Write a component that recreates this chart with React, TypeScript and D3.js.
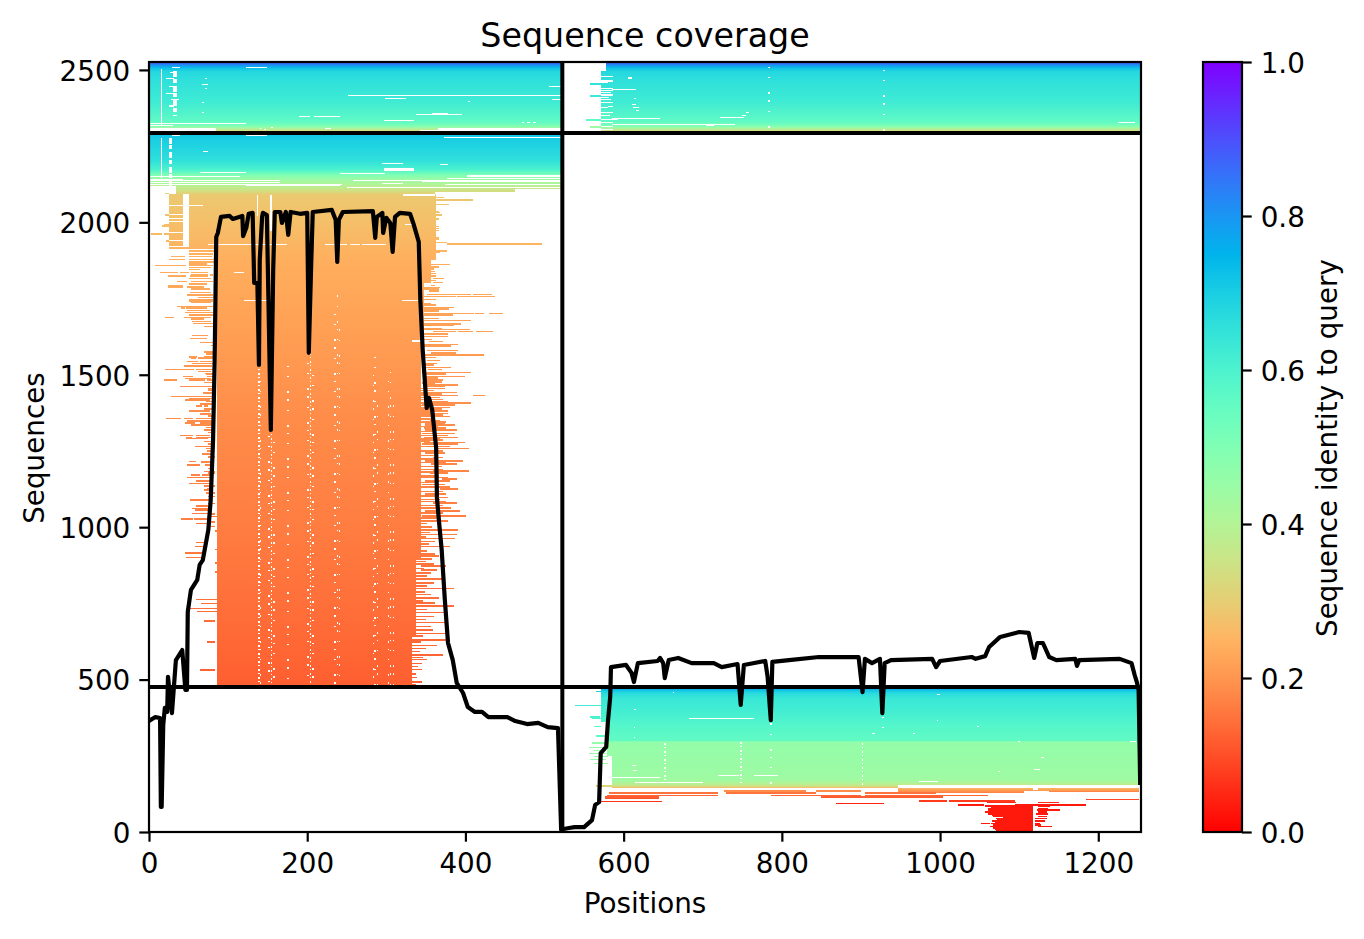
import React, { useEffect, useRef } from 'react';
import * as d3 from 'd3';

// tick labels
const posTicks = [0, 200, 400, 600, 800, 1000, 1200];
const seqTicks = [0, 500, 1000, 1500, 2000, 2500];
const idTicks = [0, 0.2, 0.4, 0.6, 0.8, 1];

// chain boundaries
const seqBreaks = [476, 2293];
const posBreak = 522.5;

// black coverage curve
const coveragePos = [0, 8, 14, 15, 16, 18, 20, 23, 24, 29, 34, 42, 46, 48, 49, 53, 61, 64, 68, 75, 78, 81, 83, 85, 87, 91, 102, 106, 118, 119, 123, 126, 131, 133, 137, 139, 140, 143, 144, 149, 154, 157, 159, 166, 168, 173, 176, 179, 191, 200, 202, 205, 207, 231, 236, 238, 240, 245, 283, 286, 288, 295, 296, 300, 305, 308, 311, 317, 330, 334, 341, 343, 346, 351, 354, 358, 363, 364, 367, 370, 374, 378, 384, 389, 397, 403, 412, 421, 429, 453, 463, 478, 492, 504, 517, 521, 524, 531, 538, 550, 560, 564, 569, 571, 578, 580, 583, 584, 603, 610, 613, 618, 643, 646, 650, 652, 657, 669, 686, 714, 724, 744, 748, 752, 779, 782, 786, 788, 809, 847, 897, 902, 905, 914, 924, 927, 930, 938, 990, 995, 1000, 1040, 1045, 1057, 1062, 1076, 1100, 1112, 1119, 1123, 1130, 1138, 1147, 1171, 1173, 1176, 1227, 1242, 1246, 1249, 1251, 1253];
const coverageCount = [364, 377, 374, 82, 82, 351, 407, 394, 509, 390, 564, 597, 466, 466, 722, 794, 827, 876, 892, 991, 1089, 1286, 1549, 1952, 1965, 2018, 2021, 2011, 2021, 1955, 1982, 2028, 2031, 1801, 1801, 1532, 1877, 2018, 2031, 2024, 1319, 1844, 2034, 2034, 1998, 2034, 1959, 2034, 2028, 2031, 1572, 1860, 2034, 2041, 2008, 1870, 2008, 2034, 2037, 1949, 2018, 2031, 1965, 2015, 1998, 1903, 2018, 2031, 2028, 1998, 1936, 1745, 1581, 1391, 1424, 1385, 1260, 1096, 1007, 925, 761, 620, 564, 489, 456, 410, 394, 394, 377, 377, 364, 354, 358, 344, 341, 7, 10, 13, 16, 16, 39, 89, 98, 259, 279, 358, 443, 541, 548, 522, 492, 554, 561, 571, 554, 505, 564, 571, 554, 554, 541, 551, 417, 548, 561, 509, 367, 558, 564, 574, 574, 459, 568, 554, 568, 390, 554, 564, 568, 541, 561, 574, 568, 577, 607, 640, 656, 653, 571, 620, 620, 574, 564, 568, 545, 564, 568, 554, 515, 489, 466, 154];

// identity at sequence rows, [seq, identity]
const identityA = [[0, 0.03], [88, 0.03], [95, 0.06], [110, 0.11], [125, 0.15], [135, 0.2], [145, 0.26], [149, 0.33], [155, 0.38], [165, 0.42], [175, 0.44], [290, 0.46], [296, 0.47], [300, 0.56], [350, 0.585], [400, 0.62], [440, 0.64], [455, 0.67], [465, 0.72], [470, 0.78], [476, 0.85]];
const identityB = [[476, 0.12], [650, 0.137], [800, 0.148], [1000, 0.163], [1350, 0.185], [1745, 0.225], [1877, 0.24], [2000, 0.27], [2090, 0.29], [2106, 0.35], [2123, 0.4], [2139, 0.44], [2155, 0.5], [2172, 0.6], [2205, 0.66], [2270, 0.7], [2293, 0.72]];
const identityC = [[2293, 0.3], [2303, 0.36], [2310, 0.44], [2316, 0.5], [2329, 0.56], [2401, 0.63], [2451, 0.65], [2484, 0.67], [2495, 0.68], [2505, 0.72], [2513, 0.78], [2520, 0.85], [2526, 0.9]];

// filled bands, [seqLow, seqHigh, pos0, pos1]
const bandsA = [[360, 476, 572, 1252], [250, 360, 579, 1252], [153, 250, 585, 1252], [145, 153, 585, 947], [134, 145, 947, 1251], [127, 134, 947, 1106], [2, 88, 1080, 1118]];
const bandsB = [[2118, 2293, 0, 522], [2108, 2118, 34, 522], [2098, 2108, 34, 463], [2094, 2098, 34, 362], [1913, 2094, 25, 363], [1877, 1913, 86, 363], [1800, 1877, 86, 356], [1565, 1800, 86, 348], [900, 1565, 86, 344], [640, 900, 86, 338], [476, 640, 86, 332]];
const bandsC = [[2296, 2526, 0, 522], [2296, 2526, 571, 1254]];

// single sequences sticking out of the blocks, [seq, pos0, pos1]
const rowsA = [
  [459, 565, 579], [413, 539, 571], [374, 557, 570], [370, 560, 572], [344, 563, 572], [312, 565, 579], [289, 560, 579], [275, 556, 578], [265, 563, 578], [255, 556, 578], [245, 563, 580], [235, 558, 578], [222, 563, 580], [148, 565, 585],
  [132, 727, 831], [132, 843, 900], [130, 1138, 1252], [125, 581, 662], [125, 650, 719], [125, 729, 843], [125, 905, 995], [118, 579, 719], [118, 786, 900], [118, 905, 1060], [113, 577, 645], [113, 850, 1004], [108, 577, 645], [104, 1185, 1252], [99, 973, 1009], [99, 1011, 1095], [97, 571, 648], [94, 1059, 1096], [94, 1124, 1150], [91, 869, 929], [86, 1023, 1055], [86, 1095, 1185],
  [83, 1057, 1118], [83, 1124, 1139], [79, 1064, 1118], [75, 1061, 1118], [75, 1124, 1137], [70, 1061, 1118], [70, 1123, 1152], [67, 1066, 1118], [63, 1057, 1118], [63, 1124, 1135], [60, 1064, 1118], [56, 1061, 1118], [56, 1121, 1137], [52, 1066, 1118], [48, 1067, 1118], [48, 1124, 1135], [42, 1071, 1118], [42, 1120, 1135], [38, 1072, 1118], [34, 1066, 1118], [34, 1120, 1133], [30, 1070, 1118], [26, 1052, 1063], [26, 1065, 1118], [26, 1120, 1126], [23, 1068, 1118], [20, 1067, 1118], [20, 1120, 1128], [15, 1063, 1118], [15, 1124, 1142], [10, 1067, 1118], [7, 1070, 1118], [4, 1071, 1118],
];
const rowsLeftB = [
  [2092, 20, 25], [2021, 20, 25], [1991, 19, 25], [1986, 16, 25], [1959, 3, 16], [1959, 19, 25], [1937, 22, 25],
  [1912, 51, 83], [1903, 51, 83], [1893, 51, 81], [1885, 28, 46], [1885, 51, 80], [1876, 25, 46], [1876, 51, 83], [1868, 51, 83], [1860, 51, 73], [1856, 8, 27], [1856, 27, 47], [1856, 51, 81], [1849, 51, 79], [1843, 51, 64], [1833, 14, 37], [1833, 39, 50], [1833, 53, 75], [1824, 53, 75], [1824, 77, 81], [1822, 24, 47], [1822, 52, 75], [1814, 51, 79], [1803, 35, 48], [1803, 53, 81], [1796, 50, 73], [1790, 24, 43], [1786, 24, 43], [1786, 48, 69], [1778, 53, 77], [1767, 52, 79], [1759, 48, 81], [1751, 62, 81], [1742, 51, 81], [1739, 51, 81], [1734, 53, 79], [1722, 35, 48], [1722, 47, 81], [1716, 40, 46], [1716, 47, 73], [1709, 48, 77], [1702, 46, 81], [1693, 51, 81], [1685, 20, 32], [1685, 44, 79], [1680, 53, 69], [1672, 54, 79], [1665, 56, 81], [1656, 70, 81], [1627, 54, 75], [1617, 52, 73], [1603, 64, 81], [1594, 78, 81], [1573, 70, 81], [1565, 72, 81], [1556, 51, 61], [1556, 70, 81], [1551, 53, 60],
  [1552, 62, 81], [1541, 48, 62], [1541, 64, 80], [1534, 54, 81], [1527, 44, 80], [1514, 20, 57], [1514, 59, 81], [1508, 62, 79], [1502, 71, 81], [1491, 43, 56], [1491, 73, 81], [1485, 46, 79], [1481, 19, 35], [1481, 50, 71], [1481, 73, 80], [1459, 39, 81], [1452, 75, 81], [1426, 28, 81], [1420, 51, 80], [1415, 46, 77], [1401, 64, 81], [1395, 59, 67], [1395, 69, 75], [1379, 51, 77], [1368, 64, 79], [1354, 22, 40], [1354, 44, 56], [1354, 60, 81], [1346, 48, 81], [1339, 46, 58], [1339, 64, 81], [1336, 64, 81], [1333, 53, 81], [1316, 70, 80], [1299, 39, 56], [1299, 59, 77], [1292, 47, 54], [1292, 60, 81], [1288, 47, 75], [1262, 58, 79], [1248, 73, 81], [1237, 67, 79], [1213, 50, 60], [1213, 66, 81], [1210, 66, 81], [1201, 48, 64], [1201, 71, 81], [1190, 75, 81], [1169, 53, 64], [1169, 67, 79], [1160, 48, 77], [1149, 59, 77], [1141, 51, 77], [1124, 73, 81], [1119, 69, 81], [1088, 52, 77], [1085, 52, 77], [1067, 59, 75], [1059, 54, 75], [1054, 58, 74], [1032, 73, 90], [1024, 40, 56], [1024, 57, 75], [1009, 60, 73],
  [1500, 72, 84], [1472, 70, 84], [1447, 74, 84], [1438, 68, 84], [1409, 72, 84], [1385, 70, 84], [1362, 74, 84], [1325, 72, 84], [1308, 74, 84], [1278, 70, 84], [1270, 75, 84], [1255, 72, 84], [1228, 74, 84], [1180, 70, 84], [1175, 74, 84], [1132, 70, 84], [1110, 72, 84], [1098, 74, 84], [1075, 74, 84], [1040, 76, 84], [1015, 75, 84], [1000, 76, 84],
  [1043, 54, 75], [985, 84, 92], [947, 60, 73], [934, 58, 69], [925, 84, 92], [912, 45, 69], [898, 47, 69], [880, 84, 94], [850, 84, 90], [761, 59, 86], [747, 66, 86], [730, 52, 90], [721, 61, 86], [689, 70, 84], [621, 73, 84], [529, 64, 84],
];
const rowsRightB = [
  [2079, 363, 373], [2071, 363, 410], [2056, 363, 379], [2033, 363, 367], [2030, 363, 368], [2021, 363, 370], [2008, 363, 367], [1984, 363, 367], [1977, 363, 367], [1971, 363, 367], [1946, 363, 367], [1942, 363, 367], [1931, 363, 377], [1926, 377, 497], [1904, 363, 377], [1898, 363, 368], [1859, 351, 381], [1851, 354, 367], [1844, 355, 360], [1837, 357, 362], [1830, 351, 363], [1822, 356, 363], [1813, 359, 373], [1806, 354, 363], [1800, 359, 372], [1791, 356, 362], [1783, 348, 368], [1778, 348, 366], [1772, 354, 366], [1761, 351, 407], [1761, 410, 434], [1754, 348, 388], [1754, 389, 437], [1745, 348, 363], [1732, 348, 356], [1726, 348, 363], [1718, 348, 386], [1713, 348, 379], [1707, 348, 366], [1698, 348, 411], [1698, 412, 423], [1698, 430, 447], [1693, 348, 384], [1682, 348, 367], [1675, 348, 407], [1664, 348, 394], [1659, 348, 386], [1649, 348, 371], [1646, 348, 406], [1639, 359, 388], [1639, 391, 410], [1639, 413, 435], [1632, 348, 378], [1623, 348, 378], [1613, 348, 358], [1607, 354, 372], [1597, 348, 391], [1592, 348, 382], [1577, 351, 391], [1569, 356, 388], [1562, 348, 423], [1554, 348, 363],
  [1545, 351, 368], [1534, 347, 364], [1521, 347, 382], [1514, 353, 370], [1505, 347, 407], [1492, 347, 399], [1481, 347, 372], [1474, 347, 370], [1464, 349, 391], [1459, 349, 374], [1452, 343, 374], [1439, 343, 389], [1429, 343, 391], [1429, 410, 425], [1423, 343, 368], [1409, 355, 378], [1405, 343, 407], [1399, 345, 387], [1390, 343, 380], [1379, 343, 378], [1370, 343, 378], [1360, 343, 380], [1348, 355, 368], [1337, 349, 374], [1332, 349, 387], [1323, 347, 376], [1316, 349, 389], [1305, 345, 387], [1292, 347, 391], [1283, 343, 372], [1275, 347, 399], [1270, 345, 391], [1255, 362, 404], [1240, 349, 374], [1226, 359, 372], [1215, 349, 397], [1204, 357, 389], [1182, 359, 404], [1175, 355, 378], [1166, 343, 366], [1155, 370, 389], [1149, 349, 380], [1138, 345, 374], [1122, 368, 391], [1106, 349, 376], [1095, 366, 378], [1076, 359, 389], [1051, 349, 393], [1035, 345, 401],
  [1530, 346, 360], [1500, 346, 375], [1487, 346, 365], [1470, 345, 362], [1446, 343, 360], [1435, 343, 370], [1416, 343, 372], [1396, 343, 366], [1385, 343, 370], [1374, 343, 358], [1365, 343, 372], [1353, 343, 362], [1343, 343, 375], [1327, 343, 365], [1311, 343, 362], [1298, 343, 378], [1287, 343, 368], [1279, 343, 355], [1262, 343, 380], [1247, 343, 372], [1233, 343, 360], [1221, 343, 362], [1210, 343, 375], [1197, 343, 370], [1187, 343, 372], [1178, 343, 362], [1160, 343, 378], [1144, 343, 362], [1130, 343, 380], [1115, 343, 372], [1100, 343, 365], [1088, 343, 368], [1082, 343, 376], [1068, 343, 372], [1060, 343, 382], [1044, 343, 372], [1028, 343, 366], [1018, 343, 378],
  [1010, 343, 352], [998, 344, 358], [988, 344, 391], [980, 344, 355], [974, 344, 389], [965, 344, 350], [960, 344, 387], [950, 344, 361], [942, 344, 354], [934, 344, 381], [920, 344, 352], [910, 344, 362], [903, 344, 366], [893, 338, 358], [885, 338, 350], [877, 338, 360], [870, 344, 376], [862, 338, 347], [857, 344, 364], [848, 338, 356], [838, 338, 351], [827, 338, 374], [815, 338, 360], [805, 338, 352], [796, 338, 385], [785, 338, 349], [776, 338, 357], [766, 338, 366], [755, 338, 346], [748, 338, 362], [739, 338, 385], [728, 338, 352], [717, 338, 374], [705, 338, 360], [695, 338, 350], [684, 338, 378], [672, 338, 356], [660, 338, 359], [648, 338, 376], [640, 332, 346], [627, 332, 375], [620, 332, 344], [610, 332, 364], [600, 332, 350], [590, 332, 342], [578, 332, 372], [570, 332, 346], [564, 332, 351], [551, 332, 345], [540, 332, 340], [531, 332, 345], [515, 332, 338], [505, 332, 339], [490, 332, 345], [480, 332, 338],
];
const rowsC = [[2451, 558, 571], [2412, 558, 571], [2333, 553, 571], [2310, 558, 571]];

// white holes, [seqLow, seqHigh, pos0, pos1]
const holeBands = [[2296, 2310, 0, 85], [2296, 2310, 365, 522], [2296, 2303, 343, 522], [2108, 2118, 0, 34], [1920, 2094, 43, 50], [2497, 2526, 571, 578]];
// white holes one sequence high, [seq, pos0, pos1]
const holeRows = [
  [2507, 29, 39], [2507, 123, 149], [2451, 67, 75], [2414, 252, 522], [2405, 298, 325], [2444, 506, 522], [2402, 509, 522], [2346, 190, 204], [2346, 209, 241], [2352, 337, 396], [2356, 358, 378], [2333, 297, 335], [2323, 0, 123], [2316, 0, 30], [2395, 403, 406], [2326, 471, 474], [2326, 478, 481], [2326, 486, 489], [2305, 140, 142], [2303, 146, 148], [2308, 154, 157], [2305, 222, 230],
  [2490, 26, 31], [2470, 22, 31], [2445, 25, 36], [2420, 21, 30], [2400, 28, 38], [2380, 25, 32],
  [2478, 571, 586], [2462, 571, 586], [2456, 571, 580], [2436, 571, 586], [2431, 571, 586], [2423, 571, 584], [2416, 571, 586], [2407, 571, 582], [2402, 571, 584], [2392, 571, 586], [2379, 580, 586], [2374, 571, 580], [2359, 571, 586], [2349, 571, 583], [2336, 571, 593], [2326, 571, 586], [2313, 571, 586], [2303, 571, 586],
  [2434, 585, 615], [2339, 585, 646], [2343, 722, 752], [2320, 585, 741], [2317, 704, 714], [2359, 755, 759], [2349, 750, 755], [2474, 605, 611], [2471, 605, 611], [2405, 613, 616], [2375, 612, 620], [2385, 611, 616], [2365, 615, 620], [2326, 1225, 1246],
  [2283, 29, 39], [2283, 123, 149], [2277, 373, 522], [2231, 68, 75], [2192, 295, 321], [2174, 297, 335], [2170, 297, 335], [2189, 368, 378], [2162, 64, 123], [2159, 241, 298], [2152, 402, 522], [2149, 402, 522], [2149, 0, 115], [2139, 0, 43], [2134, 0, 166], [2137, 258, 522], [2142, 377, 522], [2132, 345, 522], [2129, 0, 166], [2126, 295, 321], [2123, 374, 522], [2122, 0, 244], [2118, 123, 241], [2113, 250, 522],
  [2088, 321, 362], [2055, 49, 68], [1992, 324, 336], [1926, 75, 174], [1926, 222, 250], [1926, 254, 267], [1926, 269, 300], [1834, 107, 120], [1743, 120, 149], [1743, 320, 340], [1609, 332, 345],
  [2055, 25, 43], [2024, 25, 43], [2010, 25, 43], [2000, 25, 43], [1964, 25, 43], [1940, 25, 43], [1919, 25, 50],
  [370, 682, 765], [177, 581, 646], [184, 719, 746], [184, 765, 795], [160, 614, 700], [165, 973, 998], [400, 613, 615], [448, 996, 1000], [455, 662, 664], [365, 996, 998], [343, 1047, 1049], [320, 914, 918], [320, 966, 968], [198, 1073, 1076], [294, 1099, 1101], [294, 1240, 1248], [217, 610, 615], [201, 612, 617], [203, 1119, 1126], [242, 1127, 1131], [138, 1118, 1124], [141, 1118, 1124],
];
// white vertical runs, [pos, seqHigh, seqLow]
const solidColumns = [[16, 2503, 2316], [16, 2277, 2146], [137, 2090, 2020], [154, 2090, 1970]];
const denseColumns = [[139, 1532, 476], [155, 1319, 476], [204, 1572, 476], [748, 296, 160], [902, 291, 150], [652, 291, 160]];
const sparseColumns = [[141, 1480, 476], [152, 1300, 476], [158, 1280, 476], [201, 1540, 476], [207, 1500, 476], [176, 1530, 476], [235, 1700, 476], [238, 1760, 476], [241, 1650, 476], [284, 1500, 476], [286, 1559, 476], [289, 1400, 476], [303, 1480, 476], [305, 1510, 476], [309, 1400, 476], [786, 357, 150], [928, 378, 296], [614, 346, 296], [784, 2510, 2300], [929, 2500, 2300], [68, 2395, 2350], [72, 2475, 2390]];
const wideColumns = [[33, 2495, 2349], [27, 2277, 2113]];

// matplotlib's rainbow colormap, reversed
const rainbowR = (v: number) => {
  const t = 1 - v;
  const c = (k: number) => Math.round(255 * Math.min(1, Math.max(0, k)));
  return `rgb(${c(Math.abs(2 * t - 0.5))},${c(Math.sin(Math.PI * t))},${c(Math.cos((Math.PI * t) / 2))})`;
};

const width = 1364;
const height = 939;
const margin = { top: 62, right: 223, bottom: 107, left: 149 };
const barLeft = 1203;
const barWidth = 39;
const font = 'DejaVu Sans';

const App: React.FC = () => {
  const svgRef = useRef<SVGSVGElement | null>(null);

  useEffect(() => {
    const svg = d3.select(svgRef.current);
    svg.selectAll('*').remove();

    const x = d3.scaleLinear().domain([0, 1254]).range([margin.left, width - margin.right]);
    const y = d3.scaleLinear().domain([0, 2526]).range([height - margin.bottom, margin.top]);
    const c = d3.scaleLinear().domain([0, 1]).range([height - margin.bottom, margin.top]);

    const defs = svg.append('defs');
    defs.append('clipPath').attr('id', 'plot')
      .append('rect')
      .attr('x', margin.left).attr('y', margin.top)
      .attr('width', x.range()[1] - margin.left).attr('height', y.range()[0] - margin.top);

    const gradient = (id: string, stops: number[][]) => {
      const lo = stops[0][0];
      const hi = stops[stops.length - 1][0];
      const g = defs.append('linearGradient').attr('id', id)
        .attr('gradientUnits', 'userSpaceOnUse')
        .attr('x1', 0).attr('x2', 0).attr('y1', y(lo)).attr('y2', y(hi));
      g.selectAll('stop').data(stops).join('stop')
        .attr('offset', d => (d[0] - lo) / (hi - lo))
        .attr('stop-color', d => rainbowR(d[1]));
    };
    gradient('idA', identityA);
    gradient('idB', identityB);
    gradient('idC', identityC);

    const plot = svg.append('g').attr('clip-path', 'url(#plot)').attr('shape-rendering', 'crispEdges');

    const drawBands = (data: number[][], fill: string) => {
      plot.append('g').selectAll('rect').data(data).join('rect')
        .attr('x', d => x(d[2]))
        .attr('width', d => x(d[3]) - x(d[2]))
        .attr('y', d => y(Math.max(d[0], d[1])))
        .attr('height', d => Math.abs(y(d[0]) - y(d[1])))
        .attr('fill', fill);
    };
    const drawRows = (data: number[][], stops: number[][] | null, span: number) => {
      const id = stops && d3.scaleLinear().domain(stops.map(d => d[0])).range(stops.map(d => d[1]));
      plot.append('g').selectAll('rect').data(data).join('rect')
        .attr('x', d => x(d[1]))
        .attr('width', d => x(d[2]) - x(d[1]))
        .attr('y', d => y(d[0] + span))
        .attr('height', y(0) - y(span))
        .attr('fill', d => (id ? rainbowR(id(d[0])) : '#fff'));
    };

    drawBands(bandsA, 'url(#idA)');
    drawBands(bandsB, 'url(#idB)');
    drawBands(bandsC, 'url(#idC)');
    drawRows(rowsA, identityA, 5);
    drawRows(rowsLeftB, identityB, 5);
    drawRows(rowsRightB, identityB, 5);
    drawRows(rowsC, identityC, 5);
    drawBands(holeBands, '#fff');
    drawRows(holeRows, null, 3.4);

    const drawColumns = (data: number[][], w: number, dash: string | null) => {
      plot.append('g').selectAll('line').data(data).join('line')
        .attr('x1', d => x(d[0])).attr('x2', d => x(d[0]))
        .attr('y1', d => y(d[1])).attr('y2', d => y(d[2]))
        .attr('stroke', '#fff').attr('stroke-width', w)
        .attr('stroke-dasharray', dash);
    };
    drawColumns(solidColumns, 1.4, null);
    drawColumns(denseColumns, 1.6, '2 2 1 3');
    drawColumns(sparseColumns, 1.5, '1.5 9 1 14 2 6');
    drawColumns(wideColumns, 3.5, '6 1.5 4 3');

    // black separators and the coverage curve
    const lines = svg.append('g').attr('clip-path', 'url(#plot)');
    lines.selectAll('.sep').data(seqBreaks).join('line')
      .attr('x1', x(0)).attr('x2', x(1254))
      .attr('y1', d => y(d)).attr('y2', d => y(d))
      .attr('stroke', '#000').attr('stroke-width', 4);
    lines.append('line')
      .attr('x1', x(posBreak)).attr('x2', x(posBreak))
      .attr('y1', y(0)).attr('y2', y(2526))
      .attr('stroke', '#000').attr('stroke-width', 4);

    const line = d3.line<number>()
      .x(d => x(d))
      .y((_, i) => y(coverageCount[i]));
    lines.append('path')
      .attr('d', line(coveragePos))
      .attr('fill', 'none')
      .attr('stroke', '#000')
      .attr('stroke-width', 4.2)
      .attr('stroke-linejoin', 'round');

    // frame
    svg.append('rect')
      .attr('x', margin.left).attr('y', margin.top)
      .attr('width', x.range()[1] - margin.left).attr('height', y.range()[0] - margin.top)
      .attr('fill', 'none').attr('stroke', '#000').attr('stroke-width', 2.2);

    const style = (g: d3.Selection<SVGGElement, unknown, null, undefined>) => {
      g.select('.domain').remove();
      g.selectAll('line').attr('stroke', '#000').attr('stroke-width', 2.2);
      g.selectAll('text').attr('fill', '#000').attr('font-family', font).attr('font-size', 27.8);
    };

    svg.append('g')
      .attr('transform', `translate(0,${y.range()[0]})`)
      .call(d3.axisBottom(x).tickValues(posTicks).tickSize(9.7).tickPadding(12).tickFormat(d3.format('d')) as any)
      .call(style as any);
    const yAxis = svg.append('g')
      .attr('transform', `translate(${margin.left},0)`)
      .call(d3.axisLeft(y).tickValues(seqTicks).tickSize(9.7).tickPadding(9).tickFormat(d3.format('d')) as any)
      .call(style as any);
    yAxis.selectAll('text').attr('dy', '0.37em');

    // colorbar
    const barStops = d3.range(0, 21).map(i => i / 20);
    const barGrad = defs.append('linearGradient').attr('id', 'bar')
      .attr('x1', 0).attr('x2', 0).attr('y1', 1).attr('y2', 0);
    barGrad.selectAll('stop').data(barStops).join('stop')
      .attr('offset', d => d)
      .attr('stop-color', d => rainbowR(d));
    svg.append('rect')
      .attr('x', barLeft).attr('y', margin.top)
      .attr('width', barWidth).attr('height', y.range()[0] - margin.top)
      .attr('fill', 'url(#bar)').attr('stroke', '#000').attr('stroke-width', 2.2);
    const barAxis = svg.append('g')
      .attr('transform', `translate(${barLeft + barWidth},0)`)
      .call(d3.axisRight(c).tickValues(idTicks).tickSize(9.7).tickPadding(9).tickFormat(d3.format('.1f')) as any)
      .call(style as any);
    barAxis.selectAll('text').attr('dy', '0.37em');

    // titles
    const label = (text: string, tx: number, ty: number, size: number, rotate = 0) => {
      svg.append('text')
        .attr('transform', `translate(${tx},${ty}) rotate(${rotate})`)
        .attr('text-anchor', 'middle')
        .attr('font-family', font)
        .attr('font-size', size)
        .attr('fill', '#000')
        .text(text);
    };
    label('Sequence coverage', 645, 46.5, 33.3);
    label('Positions', 645, 913, 27.8);
    label('Sequences', 44, 448, 27.8, -90);
    label('Sequence identity to query', 1337, 448, 27.8, -90);
  }, []);

  return (
    <svg
      ref={svgRef}
      width={width}
      height={height}
      viewBox={`0 0 ${width} ${height}`}
      style={{ position: 'absolute', left: 0, top: 0, background: '#fff' }}
    />
  );
};

export default App;
